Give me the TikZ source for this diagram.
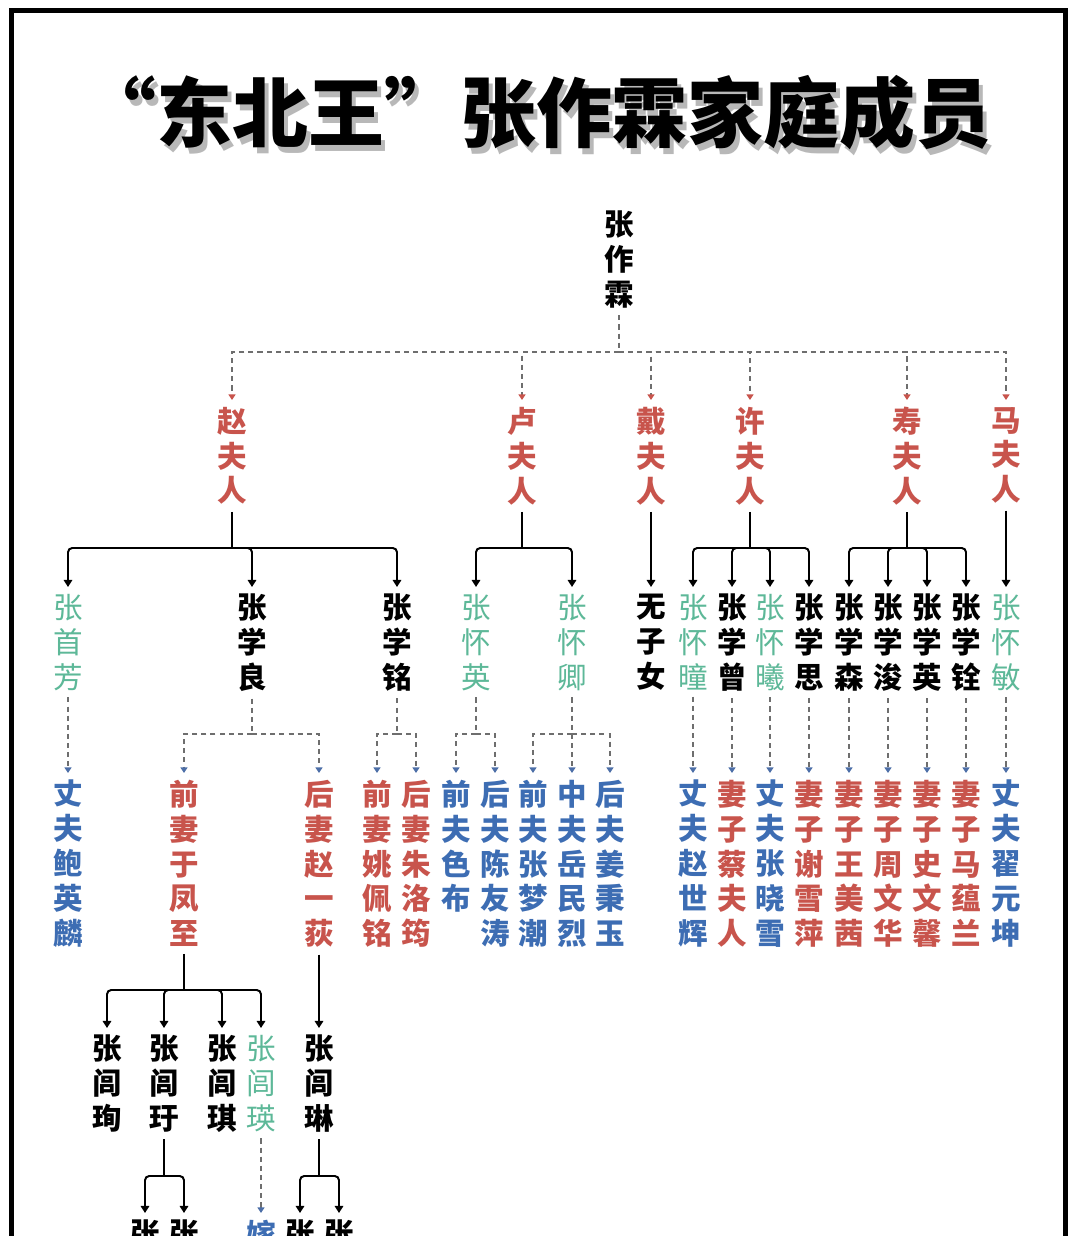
\documentclass[tikz,border=0pt]{standalone}
\usepackage{fontspec}
\setmainfont{Noto Sans CJK SC}
\definecolor{wifeRed}{HTML}{C8544C}
\definecolor{daughterTeal}{HTML}{5DB898}
\definecolor{husbandBlue}{HTML}{3D6DB3}
\definecolor{lineGray}{HTML}{6E6E6E}
\definecolor{tipBlue}{HTML}{4D6FA8}
\usepackage{tikz}
\usetikzlibrary{arrows.meta}

\tikzset{
  person/.style={anchor=north, align=center, inner sep=0pt, outer sep=5pt,
    font=\fontsize{21}{24.8}\selectfont\bfseries},
  daughter/.style={person, text=daughterTeal, font=\fontsize{21}{24.8}\selectfont},
  wife/.style={person, text=wifeRed},
  husband/.style={person, text=husbandBlue},
  kinBar/.style={line width=1.4pt, rounded corners=3pt},
  kinLine/.style={kinBar, -{Triangle[width=6pt,length=5pt]}},
  marryBar/.style={lineGray, line width=1.1pt, dash pattern=on 3.6pt off 2.9pt},
  marryLine/.style={marryBar, -{Triangle[width=5pt,length=4pt,color=#1]}},
  marryLine/.default=tipBlue,
  headline/.style={font=\fontsize{54}{60}\selectfont\bfseries},
}

\begin{document}
\begin{tikzpicture}[x=0.025cm, y=-0.025cm]
  \useasboundingbox[fill=white] (0,0) rectangle (1080,1236);
  \clip (0,0) rectangle (1080,1236);
  \draw[line width=3.2pt] (11.5,1260) -- (11.5,10.5) -- (1065.5,10.5) -- (1065.5,1260);

  % title
  \node[headline, text=black!28] (titleShadow) at (540,119)
    {\makebox[1em][r]{“}东北王\makebox[1em][l]{”}张作霖家庭成员};
  \node[headline] (title) at (536,113)
    {\makebox[1em][r]{“}东北王\makebox[1em][l]{”}张作霖家庭成员};

  \node[person] (root) at (619,204) {张\\作\\霖};

  % wives
  \node[wife] (zhao) at (232,400) {赵\\夫\\人};
  \node[wife] (lu)   at (522,400) {卢\\夫\\人};
  \node[wife] (dai)  at (651,400) {戴\\夫\\人};
  \node[wife] (xu)   at (750,400) {许\\夫\\人};
  \node[wife] (shou) at (907,400) {寿\\夫\\人};
  \node[wife] (ma)   at (1006,400) {马\\夫\\人};

  % children
  \node[daughter] (shoufang) at (68,587)  {张\\首\\芳};
  \node[person]   (xueliang) at (252,587) {张\\学\\良};
  \node[person]   (xueming)  at (397,587) {张\\学\\铭};
  \node[daughter] (huaiying) at (476,587) {张\\怀\\英};
  \node[daughter] (huaiqing) at (572,587) {张\\怀\\卿};
  \node[person]   (none)     at (651,587) {无\\子\\女};
  \node[daughter] (huaitong) at (693,587) {张\\怀\\曈};
  \node[person]   (xuezeng)  at (732,587) {张\\学\\曾};
  \node[daughter] (huaixi)   at (770,587) {张\\怀\\曦};
  \node[person]   (xuesi)    at (809,587) {张\\学\\思};
  \node[person]   (xuesen)   at (849,587) {张\\学\\森};
  \node[person]   (xuejun)   at (888,587) {张\\学\\浚};
  \node[person]   (xueying)  at (927,587) {张\\学\\英};
  \node[person]   (xuequan)  at (966,587) {张\\学\\铨};
  \node[daughter] (huaimin)  at (1006,587) {张\\怀\\敏};

  % spouses
  \node[husband] (baoYinglin)    at (68,773)  {丈\\夫\\鲍\\英\\麟};
  \node[wife]    (yuFengzhi)     at (184,773) {前\\妻\\于\\凤\\至};
  \node[wife]    (zhaoYidi)      at (319,773) {后\\妻\\赵\\一\\荻};
  \node[wife]    (yaoPeiming)    at (377,773) {前\\妻\\姚\\佩\\铭};
  \node[wife]    (zhuLuojun)     at (416,773) {后\\妻\\朱\\洛\\筠};
  \node[husband] (sebu)          at (456,773) {前\\夫\\色\\布};
  \node[husband] (chenYoutao)    at (495,773) {后\\夫\\陈\\友\\涛};
  \node[husband] (zhangMengchao) at (533,773) {前\\夫\\张\\梦\\潮};
  \node[husband] (yueMinlie)     at (572,773) {中\\夫\\岳\\民\\烈};
  \node[husband] (jiangBingyu)   at (610,773) {后\\夫\\姜\\秉\\玉};
  \node[husband] (zhaoShihui)    at (693,773) {丈\\夫\\赵\\世\\辉};
  \node[wife]    (caiFuren)      at (732,773) {妻\\子\\蔡\\夫\\人};
  \node[husband] (zhangXiaoxue)  at (770,773) {丈\\夫\\张\\晓\\雪};
  \node[wife]    (xieXueping)    at (809,773) {妻\\子\\谢\\雪\\萍};
  \node[wife]    (wangMeiqian)   at (849,773) {妻\\子\\王\\美\\茜};
  \node[wife]    (zhouWenhua)    at (888,773) {妻\\子\\周\\文\\华};
  \node[wife]    (shiWenxin)     at (927,773) {妻\\子\\史\\文\\馨};
  \node[wife]    (maYunlan)      at (966,773) {妻\\子\\马\\蕴\\兰};
  \node[husband] (diYuankun)     at (1006,773) {丈\\夫\\翟\\元\\坤};

  % grandchildren
  \node[person]   (lvxun)  at (107,1028) {张\\闾\\珣};
  \node[person]   (lvyu)   at (164,1028) {张\\闾\\玗};
  \node[person]   (lvqi)   at (222,1028) {张\\闾\\琪};
  \node[daughter] (lvying) at (261,1028) {张\\闾\\瑛};
  \node[person]   (lvlin)  at (319,1028) {张\\闾\\琳};

  \node[person]  (lvyuA)  at (145,1213) {张};
  \node[person]  (lvyuB)  at (184,1213) {张};
  \node[husband] (jia)    at (261,1213) {嫁};
  \node[person]  (lvlinA) at (300,1213) {张};
  \node[person]  (lvlinB) at (339,1213) {张};

  \coordinate (topBar) at (619,352);
  \coordinate (zhaoBar) at (232,548);
  \coordinate (luBar) at (522,548);
  \coordinate (xuBar) at (750,548);
  \coordinate (shouBar) at (907,548);
  \coordinate (xueliangBar) at (252,734);
  \coordinate (xuemingBar) at (397,734);
  \coordinate (huaiyingBar) at (476,734);
  \coordinate (huaiqingBar) at (572,734);
  \coordinate (yuBar) at (184,990);
  \coordinate (lvyuBar) at (164,1176);
  \coordinate (lvlinBar) at (319,1176);

  % marriages
  \draw[marryBar] (root.south) -- (topBar);
  \foreach \w in {zhao,lu,dai,xu,shou,ma}
    \draw[marryLine=wifeRed] (topBar) -| (\w.north);

  \draw[marryBar] (xueliang.south) -- (xueliangBar);
  \draw[marryBar] (xueming.south) -- (xuemingBar);
  \draw[marryBar] (huaiying.south) -- (huaiyingBar);
  \draw[marryBar] (huaiqing.south) -- (huaiqingBar);
  \foreach \b/\s in {xueliangBar/yuFengzhi, xueliangBar/zhaoYidi,
      xuemingBar/yaoPeiming, xuemingBar/zhuLuojun,
      huaiyingBar/sebu, huaiyingBar/chenYoutao,
      huaiqingBar/zhangMengchao, huaiqingBar/yueMinlie, huaiqingBar/jiangBingyu}
    \draw[marryLine] (\b) -| (\s.north);
  \foreach \c/\s in {shoufang/baoYinglin, huaitong/zhaoShihui, xuezeng/caiFuren,
      huaixi/zhangXiaoxue, xuesi/xieXueping, xuesen/wangMeiqian, xuejun/zhouWenhua,
      xueying/shiWenxin, xuequan/maYunlan, huaimin/diYuankun, lvying/jia}
    \draw[marryLine] (\c.south) -- (\s.north);

  % children
  \draw[kinBar] (zhao.south) -- (zhaoBar);
  \draw[kinBar] (lu.south) -- (luBar);
  \draw[kinBar] (xu.south) -- (xuBar);
  \draw[kinBar] (shou.south) -- (shouBar);
  \draw[kinBar] (yuFengzhi.south) -- (yuBar);
  \draw[kinBar] (lvyu.south) -- (lvyuBar);
  \draw[kinBar] (lvlin.south) -- (lvlinBar);
  \foreach \b/\c in {zhaoBar/shoufang, zhaoBar/xueliang, zhaoBar/xueming,
      luBar/huaiying, luBar/huaiqing,
      xuBar/huaitong, xuBar/xuezeng, xuBar/huaixi, xuBar/xuesi,
      shouBar/xuesen, shouBar/xuejun, shouBar/xueying, shouBar/xuequan,
      yuBar/lvxun, yuBar/lvyu, yuBar/lvqi, yuBar/lvying,
      lvyuBar/lvyuA, lvyuBar/lvyuB, lvlinBar/lvlinA, lvlinBar/lvlinB}
    \draw[kinLine] (\b) -| (\c.north);
  \draw[kinLine] (dai.south) -- (none.north);
  \draw[kinLine] (ma.south) -- (huaimin.north);
  \draw[kinLine] (zhaoYidi.south) -- (lvlin.north);
\end{tikzpicture}
\end{document}
